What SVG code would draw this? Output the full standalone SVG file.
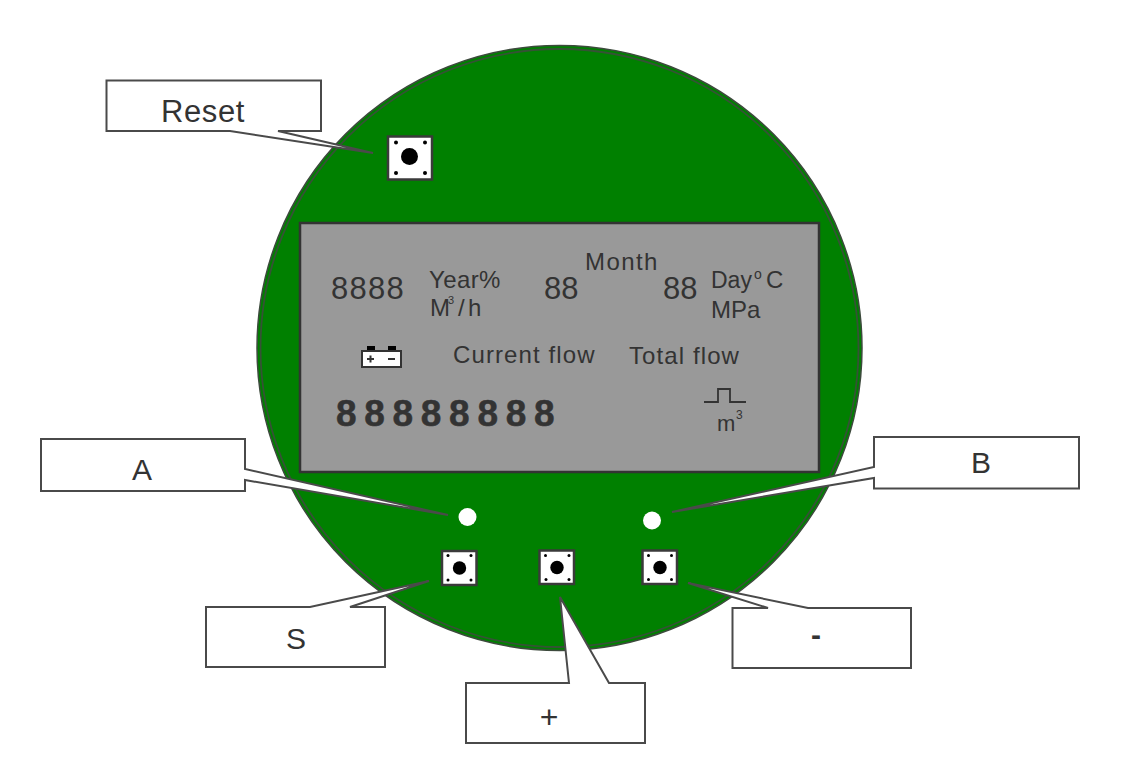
<svg xmlns="http://www.w3.org/2000/svg" width="1123" height="757" viewBox="0 0 1123 757">
<style>
text{font-family:"Liberation Sans",Arial,sans-serif;fill:#333}
.callout{fill:#fff;stroke:#4a4a4a;stroke-width:2;stroke-linejoin:miter}
.cl{font-size:30px;text-anchor:middle}
.btn{fill:#fff;stroke:#3a3a3a;stroke-width:2.500}
.t{font-size:24px}
.d{font-size:31px}
.sup{font-size:14px}
</style>
<rect width="1123" height="757" fill="#fff"/>
<g id="board">
<circle cx="559.5" cy="348" r="302.5" fill="#008000" stroke="#3c4a3c" stroke-width="1.500"/>
<circle cx="559.5" cy="348" r="299" fill="none" stroke="#355235" stroke-width="1.800"/>
</g>
<g id="lcd">
<rect x="300" y="223" width="519" height="249" fill="#999" stroke="#333" stroke-width="2.500"/>
<text class="d" x="331" y="299" letter-spacing="1.300">8888</text>
<text class="t" x="429" y="287.500" letter-spacing="0.400">Year%</text>
<text class="t" x="430" y="316">M</text>
<text x="448" y="304" font-size="11">3</text>
<text class="t" x="458" y="316">/</text>
<text class="t" x="468" y="316">h</text>
<text class="d" x="544" y="299">88</text>
<text class="t" x="585" y="270" letter-spacing="1.400">Month</text>
<text class="d" x="663" y="299">88</text>
<text class="t" x="711" y="288" style="font-size:23px">Day</text>
<text class="sup" x="754" y="279">o</text>
<text class="t" x="766" y="288">C</text>
<text class="t" x="711" y="318">MPa</text>
<text class="t" x="453" y="363" letter-spacing="1.100">Current flow</text>
<text class="t" x="629" y="364" letter-spacing="1.100">Total flow</text>
<text x="336" y="426" font-size="37" font-weight="bold" letter-spacing="7.700" stroke="#333" stroke-width="0.500">88888888</text>
<g id="battery">
<rect x="367" y="346" width="8" height="6" fill="#000"/>
<rect x="388" y="346" width="8" height="6" fill="#000"/>
<rect x="362" y="351" width="39" height="16" fill="#fff" stroke="#333" stroke-width="2"/>
<path d="M367 359h7M370.5 355.5v7M388 359h7" stroke="#333" stroke-width="2" fill="none"/>
</g>
<polyline points="704,402 718,402 718,389 730,389 730,402 746,402" fill="none" stroke="#333" stroke-width="1.800"/>
<text class="t" x="717" y="431" style="font-size:22px">m</text>
<text x="736" y="419" font-size="12">3</text>
</g>
<g id="btn-reset">
<rect class="btn" x="388" y="136.500" width="44" height="43"/>
<circle cx="409.500" cy="156.500" r="8.500"/>
<circle cx="396" cy="142.500" r="2"/><circle cx="425" cy="142.500" r="2"/><circle cx="396" cy="173" r="2"/><circle cx="425" cy="173" r="2"/>
</g>
<g id="btn-s">
<rect class="btn" x="442" y="551" width="34.500" height="34"/>
<circle cx="459.500" cy="568" r="6.700"/>
<circle cx="448" cy="555.500" r="1.500"/><circle cx="471" cy="555.500" r="1.500"/><circle cx="448" cy="580" r="1.500"/><circle cx="471" cy="580" r="1.500"/>
</g>
<g id="btn-plus">
<rect class="btn" x="539.500" y="550.500" width="34.500" height="33.500"/>
<circle cx="557" cy="567.500" r="6.700"/>
<circle cx="545.500" cy="555.500" r="1.500"/><circle cx="569" cy="555.500" r="1.500"/><circle cx="546" cy="579.500" r="1.500"/><circle cx="569" cy="579.500" r="1.500"/>
</g>
<g id="btn-minus">
<rect class="btn" x="642.500" y="550.500" width="34.500" height="33.500"/>
<circle cx="660" cy="567.500" r="6.700"/>
<circle cx="648.500" cy="555.500" r="1.500"/><circle cx="671.500" cy="555.500" r="1.500"/><circle cx="648.500" cy="579.500" r="1.500"/><circle cx="671.500" cy="579.500" r="1.500"/>
</g>
<g id="led-a"><circle cx="467.500" cy="517" r="9" fill="#fff"/></g>
<g id="led-b"><circle cx="652" cy="520.500" r="9" fill="#fff"/></g>
<g id="callouts">
<g id="callout-reset">
<path class="callout" d="M106.500 80.500H321V131H278L373 153 230 131H106.500Z"/>
<text class="cl" x="203" y="122" style="font-size:31px" letter-spacing="0.600">Reset</text>
</g>
<g id="callout-a">
<path class="callout" d="M41 439H245V469L448 515 245 480V491H41Z"/>
<text class="cl" x="142" y="480">A</text>
</g>
<g id="callout-b">
<path class="callout" d="M874 437H1079V488.500H874V478L672 512 874 467Z"/>
<text class="cl" x="981" y="473">B</text>
</g>
<g id="callout-s">
<path class="callout" d="M206 607H310L429 581 350 607H385V667H206Z"/>
<text class="cl" x="296" y="649">S</text>
</g>
<g id="callout-plus">
<path class="callout" d="M466 683H569L560 597 609 683H645V743H466Z"/>
<text class="cl" x="549" y="728" style="font-size:32px">+</text>
</g>
<g id="callout-minus">
<path class="callout" d="M732.500 608H768L688 583 808 608H911V668H732.500Z"/>
<text class="cl" x="816" y="645" font-weight="bold">-</text>
</g>
</g>
</svg>
